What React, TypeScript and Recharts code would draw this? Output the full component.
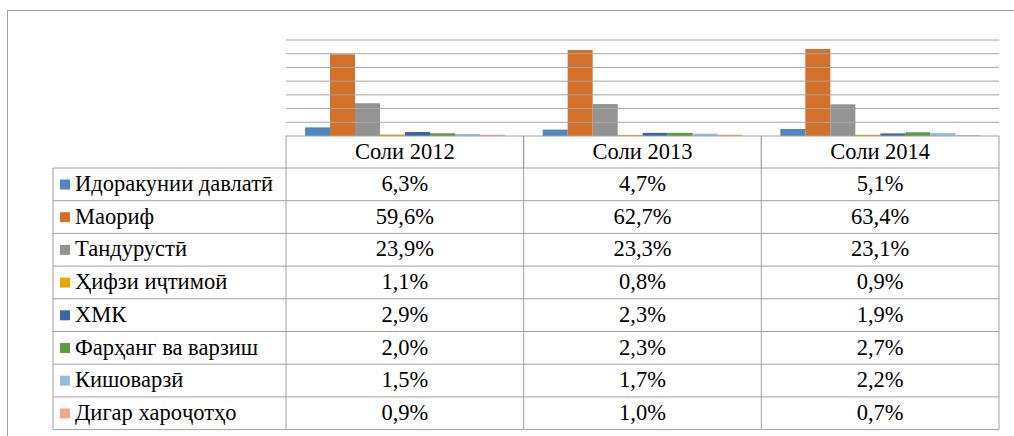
import { BarChart, Bar, XAxis, YAxis, ReferenceLine } from "recharts";

const years = ["Соли 2012", "Соли 2013", "Соли 2014"];

const seriesNames = [
  "Идоракунии давлатӣ",
  "Маориф",
  "Тандурустӣ",
  "Ҳифзи иҷтимоӣ",
  "ХМК",
  "Фарҳанг ва варзиш",
  "Кишоварзӣ",
  "Дигар хароҷотҳо",
];

const seriesColors = [
  "#4f88c0",
  "#d3702a",
  "#939393",
  "#e5aa00",
  "#3e63ad",
  "#5f9a3f",
  "#98bbe2",
  "#f0a98a",
];

// percent by year (2012, 2013, 2014)
const idorakunii = [6.3, 4.7, 5.1];
const maorif = [59.6, 62.7, 63.4];
const tandurusti = [23.9, 23.3, 23.1];
const hifzi = [1.1, 0.8, 0.9];
const hmk = [2.9, 2.3, 1.9];
const farhang = [2.0, 2.3, 2.7];
const kishovarzi = [1.5, 1.7, 2.2];
const digar = [0.9, 1.0, 0.7];

const seriesValues = [idorakunii, maorif, tandurusti, hifzi, hmk, farhang, kishovarzi, digar];

const yTicks = [0, 10, 20, 30, 40, 50, 60, 70];

const data = years.map((year, i) => {
  const row: any = { year };
  seriesNames.forEach((_, s) => {
    row["s" + s] = seriesValues[s][i];
  });
  return row;
});

const fmt = (v: number) => v.toFixed(1).replace(".", ",") + "%";

const FONT = "Liberation Serif, serif";
const LINE = "#a0a0a0";
const FS = 22.5;

const W = 1014;
const H = 436;
const PLOT_LEFT = 286;
const PLOT_RIGHT = 15;
const PLOT_TOP = 40;
const HEADER_H = 32;
const CHART_H = 168;
const PLOT_W = W - PLOT_LEFT - PLOT_RIGHT;
const BAND = PLOT_W / years.length;
const TABLE_LEFT = 53;
const ROW_H = 32.7;

const textStyle = { fontFamily: FONT, fontSize: FS, fill: "#000" };

function YearTick(props: any) {
  const { x, y, payload } = props;
  return (
    <g>
      <line x1={x - BAND / 2} x2={x - BAND / 2} y1={y} y2={y + HEADER_H} stroke={LINE} />
      <line x1={x + BAND / 2} x2={x + BAND / 2} y1={y} y2={y + HEADER_H} stroke={LINE} />
      <text x={x} y={y + 22.5} textAnchor="middle" style={textStyle}>
        {payload.value}
      </text>
    </g>
  );
}

function DataTable() {
  const tableH = ROW_H * seriesNames.length;
  const colEdges = years.map((_, i) => PLOT_LEFT + BAND * i).concat([PLOT_LEFT + PLOT_W]);
  return (
    <svg width={W} height={H} style={{ position: "absolute", left: 0, top: 0 }}>
      {seriesNames.map((_, r) => (
        <line
          key={"h" + r}
          x1={TABLE_LEFT}
          x2={PLOT_LEFT + PLOT_W}
          y1={CHART_H + ROW_H * (r + 1)}
          y2={CHART_H + ROW_H * (r + 1)}
          stroke={LINE}
        />
      ))}
      <line x1={TABLE_LEFT} x2={PLOT_LEFT + PLOT_W} y1={CHART_H} y2={CHART_H} stroke={LINE} />
      <line x1={TABLE_LEFT} x2={TABLE_LEFT} y1={CHART_H} y2={CHART_H + tableH} stroke={LINE} />
      {colEdges.map((x, i) => (
        <line key={"v" + i} x1={x} x2={x} y1={CHART_H} y2={CHART_H + tableH} stroke={LINE} />
      ))}
      {seriesNames.map((name, r) => {
        const top = CHART_H + ROW_H * r;
        return (
          <g key={name}>
            <rect x={60} y={top + 11.5} width={10} height={10} fill={seriesColors[r]} />
            <text x={75} y={top + 23} style={textStyle}>
              {name}
            </text>
            {seriesValues[r].map((v, i) => (
              <text key={i} x={PLOT_LEFT + BAND * (i + 0.5)} y={top + 23} textAnchor="middle" style={textStyle}>
                {fmt(v)}
              </text>
            ))}
          </g>
        );
      })}
    </svg>
  );
}

export default function App() {
  return (
    <div
      style={{
        position: "absolute",
        left: 0,
        top: 0,
        width: W,
        height: H,
        overflow: "hidden",
        background: "#fff",
      }}
    >
      <div
        style={{
          position: "absolute",
          left: 7,
          top: 10,
          width: W + 50,
          height: H + 50,
          border: `1px solid ${LINE}`,
        }}
      />
      <DataTable />
      <div style={{ position: "absolute", left: 0, top: 0 }}>
        <BarChart
          width={W}
          height={CHART_H}
          data={data}
          margin={{ top: PLOT_TOP, right: PLOT_RIGHT, bottom: 0, left: PLOT_LEFT }}
          barSize={25}
          barGap={0}
        >
          <YAxis
            width={0}
            domain={[0, 70]}
            ticks={yTicks}
            tickLine={false}
            tick={false}
            axisLine={{ stroke: LINE }}
          />
          {yTicks.slice(1).map((v) => (
            <ReferenceLine key={v} y={v} stroke="#a6a6a6" ifOverflow="extendDomain" />
          ))}
          <XAxis
            dataKey="year"
            height={HEADER_H}
            tickLine={false}
            tickSize={0}
            tickMargin={0}
            axisLine={{ stroke: LINE }}
            tick={<YearTick />}
            interval={0}
          />
          {seriesNames.map((name, s) => (
            <Bar key={name} dataKey={"s" + s} name={name} fill={seriesColors[s]} isAnimationActive={false} />
          ))}
        </BarChart>
      </div>
    </div>
  );
}
